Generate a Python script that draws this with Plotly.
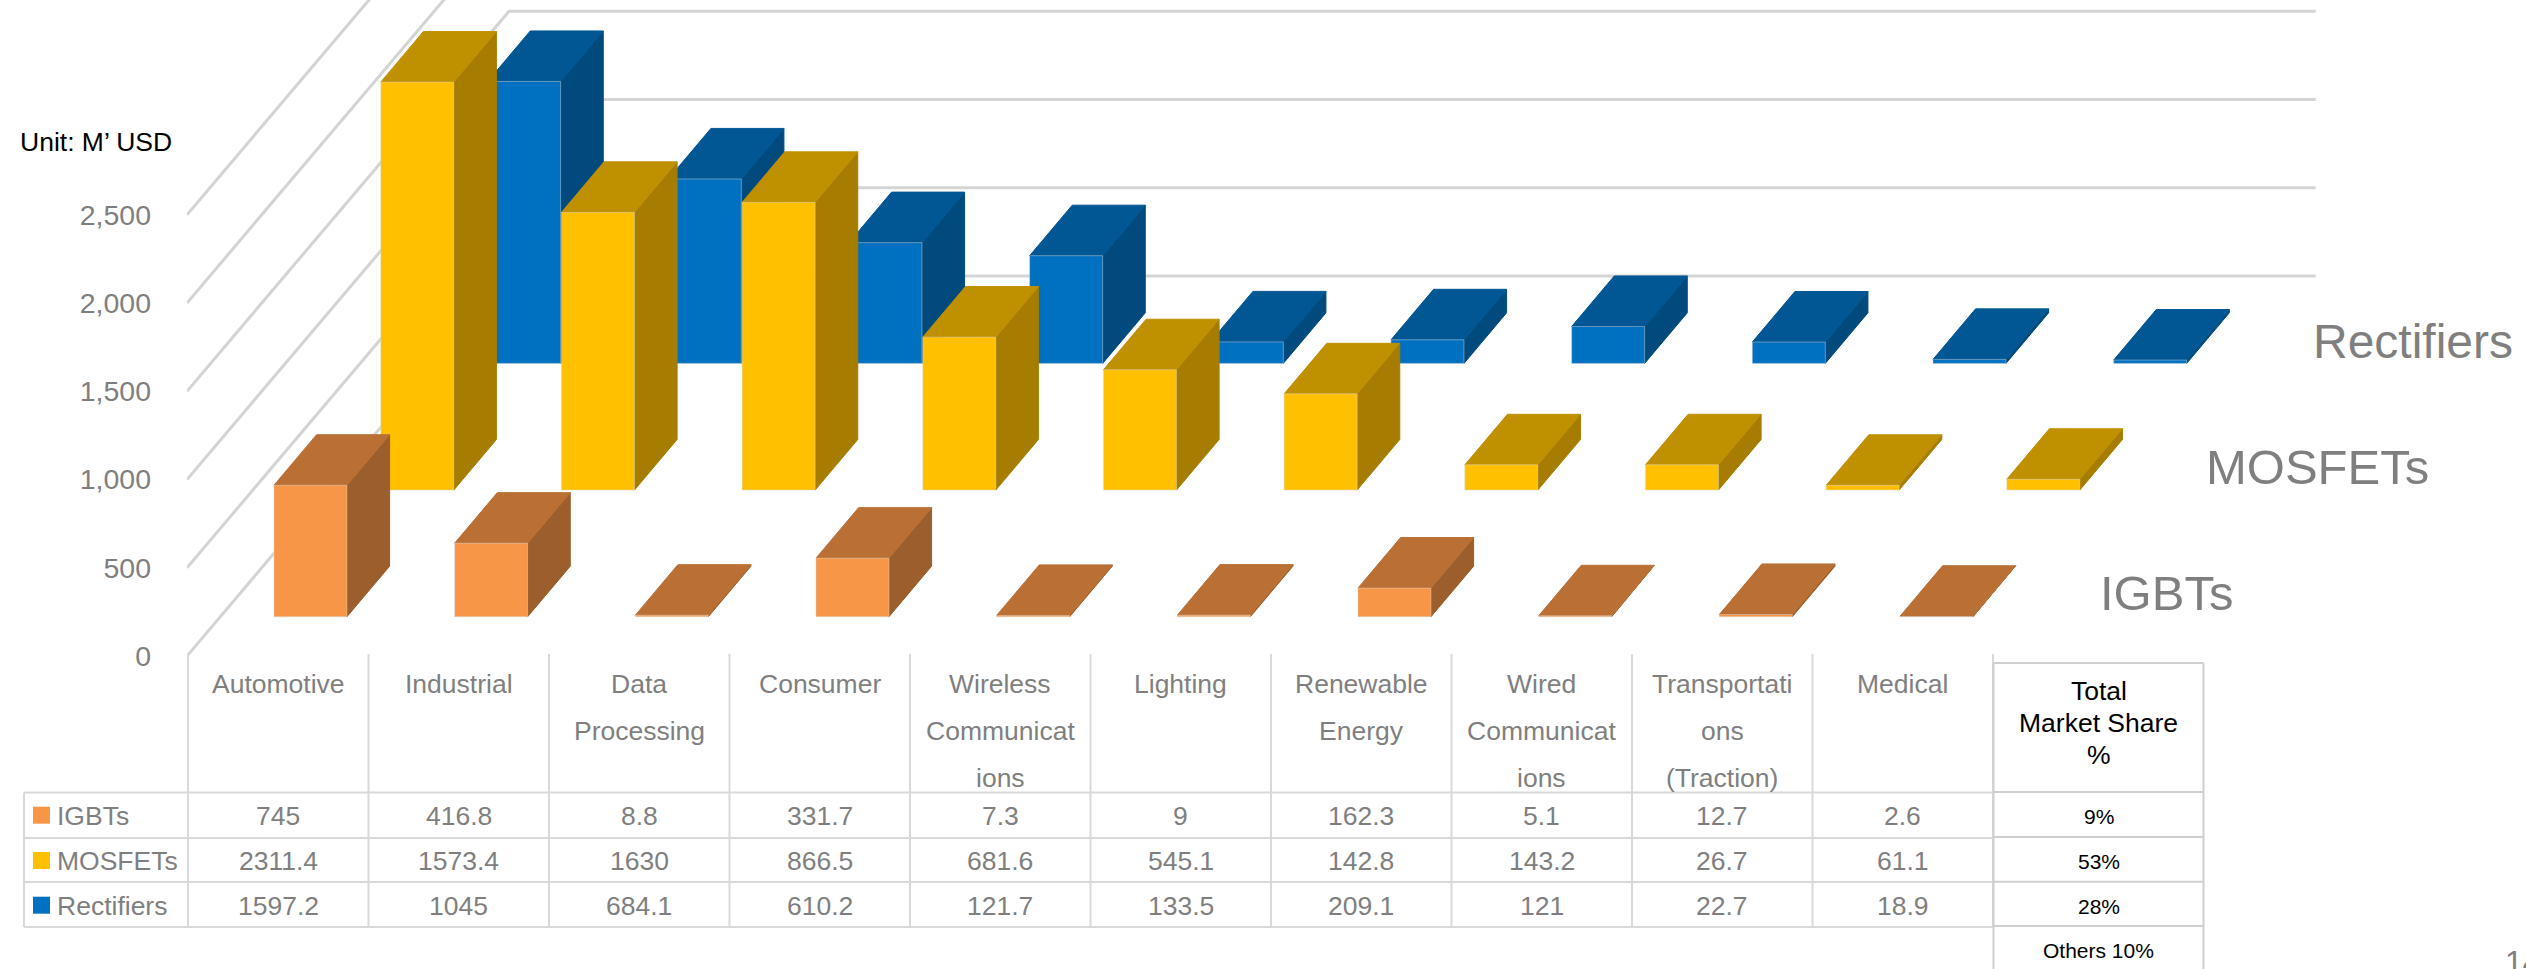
import plotly.graph_objects as go

categories = ["Automotive", "Industrial", "Data Processing", "Consumer", "Wireless Communications",
              "Lighting", "Renewable Energy", "Wired Communications", "Transportations (Traction)", "Medical"]
category_lines = [["Automotive"], ["Industrial"], ["Data", "Processing"], ["Consumer"],
                  ["Wireless", "Communicat", "ions"], ["Lighting"], ["Renewable", "Energy"],
                  ["Wired", "Communicat", "ions"], ["Transportati", "ons", "(Traction)"], ["Medical"]]
igbts = [745, 416.8, 8.8, 331.7, 7.3, 9, 162.3, 5.1, 12.7, 2.6]
mosfets = [2311.4, 1573.4, 1630, 866.5, 681.6, 545.1, 142.8, 143.2, 26.7, 61.1]
rectifiers = [1597.2, 1045, 684.1, 610.2, 121.7, 133.5, 209.1, 121, 22.7, 18.9]
value_text = {"IGBTs": ["745", "416.8", "8.8", "331.7", "7.3", "9", "162.3", "5.1", "12.7", "2.6"],
              "MOSFETs": ["2311.4", "1573.4", "1630", "866.5", "681.6", "545.1", "142.8", "143.2", "26.7", "61.1"],
              "Rectifiers": ["1597.2", "1045", "684.1", "610.2", "121.7", "133.5", "209.1", "121", "22.7", "18.9"]}
y_ticks = [0, 500, 1000, 1500, 2000, 2500]
y_tick_labels = ["0", "500", "1,000", "1,500", "2,000", "2,500"]
share_rows = ["9%", "53%", "28%", "Others 10%"]

W, H = 2526, 969
ML, MB = 187, 313
CAT_PX = 180.67
TABLE_PX = 180.5
VAL_PX = 0.1765
FLOOR_PX = H - MB
DEPTH_X = 320.5 / CAT_PX    # floor depth used by the bars, category units
WALL_X = 322 / CAT_PX       # floor depth used by the wall lines, category units
DEPTH_Y = 380 / VAL_PX      # floor depth, value units
FONT = "Liberation Sans"
GRAY = "#7F7F7F"
GRID = "#D4D4D4"
TABLE = "#D9D9D9"

series = [
    ("Rectifiers", rectifiers, 2, "#0070C0", "#005794", "#004A7E", 2312.5, 341, 48),
    ("MOSFETs", mosfets, 1, "#FFC000", "#BF9000", "#A67D00", 2205.5, 467, 49),
    ("IGBTs", igbts, 0, "#F79646", "#BA7035", "#9C5E2C", 2099.5, 593, 49),
]


def project(cat, value, depth):
    return cat + depth * DEPTH_X, value + depth * DEPTH_Y


def px(x):
    return (x - ML) / (W - ML)


def py(y):
    return (FLOOR_PX - y) / FLOOR_PX


fig = go.Figure()

# floor / wall gridlines
for v in y_ticks:
    fig.add_trace(go.Scatter(x=[0, WALL_X, 10 + WALL_X], y=[v, v + DEPTH_Y, v + DEPTH_Y], mode="lines",
                             line=dict(color=GRID, width=3), hoverinfo="skip", showlegend=False))

BAR_L, BAR_W = 0.298, 0.404
for name, vals, row, c_front, c_top, c_side, *_ in series:
    d0 = (row + 0.31) / 3
    d1 = d0 + 0.133
    fx, fy, tx, ty, sx, sy = [], [], [], [], [], []
    for i, v in enumerate(vals):
        l, r = i + BAR_L, i + BAR_L + BAR_W
        a = [project(l, 0, d0), project(r, 0, d0), project(r, v, d0), project(l, v, d0), project(l, 0, d0)]
        b = [project(l, v, d0), project(r, v, d0), project(r, v, d1), project(l, v, d1), project(l, v, d0)]
        c = [project(r, 0, d0), project(r, 0, d1), project(r, v, d1), project(r, v, d0), project(r, 0, d0)]
        for pts, xs, ys in ((a, fx, fy), (b, tx, ty), (c, sx, sy)):
            xs += [p[0] for p in pts] + [None]
            ys += [p[1] for p in pts] + [None]
    for xs, ys, col, edge, lw in ((sx, sy, c_side, c_side, 1), (tx, ty, c_top, c_top, 1),
                                  (fx, fy, c_front, "rgba(217,217,217,0.6)", 0.75)):
        fig.add_trace(go.Scatter(x=xs, y=ys, mode="lines", fill="toself", fillcolor=col,
                                 line=dict(color=edge, width=lw), name=name,
                                 hoverinfo="skip", showlegend=False))

shapes, ann = [], []


def hline(x0, x1, y, color=TABLE, width=2):
    shapes.append(dict(type="line", xref="paper", yref="paper", x0=px(x0), x1=px(x1), y0=py(y), y1=py(y),
                       line=dict(color=color, width=width)))


def vline(x, y0, y1, color=TABLE, width=2):
    shapes.append(dict(type="line", xref="paper", yref="paper", x0=px(x), x1=px(x), y0=py(y0), y1=py(y1),
                       line=dict(color=color, width=width)))


def text(t, x, y, size=26.5, color=GRAY, anchor="center"):
    ann.append(dict(text=t, xref="paper", yref="paper", x=px(x), y=py(y), xanchor=anchor, yanchor="middle",
                    showarrow=False, borderpad=0, borderwidth=0,
                    font=dict(family=FONT, size=size, color=color)))


# data table grid
T0 = 188
row_lines = [792.5, 838, 882, 927]
row_mid = [815.7, 861, 905.7]
for y in row_lines:
    hline(24, 1993, y)
vline(24, 792.5, 927)
for i in range(11):
    vline(T0 + i * TABLE_PX, 654, 927)

# category headers
line_y = [684, 731, 778]
for i, lines in enumerate(category_lines):
    for j, t in enumerate(lines):
        text(t, T0 + (i + 0.5) * TABLE_PX, line_y[j])

# table rows
for k, (name, vals, row, c_front, *_rest) in enumerate(reversed(series)):
    y = row_mid[k]
    shapes.append(dict(type="rect", xref="paper", yref="paper", x0=px(33), x1=px(50), y0=py(y - 9), y1=py(y + 8),
                       fillcolor=c_front, line=dict(width=0)))
    text(name, 57, y, anchor="left")
    for i, t in enumerate(value_text[name]):
        text(t, T0 + (i + 0.5) * TABLE_PX, y)

# share table
S0, S1 = 1993.5, 2203.5
for y in [663, 792, 837, 881.7, 926]:
    hline(S0, S1, y, color="#CFCFCF")
vline(S0, 663, 969, color="#CFCFCF")
vline(S1, 663, 969, color="#CFCFCF")
Sx = (S0 + S1) / 2
for t, y in zip(["Total", "Market Share", "%"], [690.7, 722.7, 755]):
    text(t, Sx, y, size=26.5, color="#000000")
for t, y in zip(share_rows, [816.7, 861.5, 906, 950.7]):
    text(t, Sx, y, size=21, color="#000000")

# series names on the depth axis
for name, _, _, _, _, _, x, y, size in series:
    text(name, x, y, size=size, anchor="left")

text("Unit: M’ USD", 20, 142, size=26.5, color="#000000", anchor="left")
text("14", 2505, 961.5, size=32, anchor="left")

fig.update_layout(
    width=W, height=H, autosize=False,
    margin=dict(l=ML, r=0, t=0, b=MB, pad=0),
    paper_bgcolor="white", plot_bgcolor="white",
    showlegend=False, shapes=shapes, annotations=ann,
    font=dict(family=FONT),
    xaxis=dict(range=[0, (W - ML) / CAT_PX], visible=False, fixedrange=True),
    yaxis=dict(range=[0, FLOOR_PX / VAL_PX], tickvals=y_ticks, ticktext=y_tick_labels,
               showgrid=False, zeroline=False, showline=False, ticks="",
               ticklabelstandoff=35, fixedrange=True,
               tickfont=dict(family=FONT, size=28.5, color=GRAY)),
)
fig.write_html("out.html", config={"displayModeBar": False},
               post_script="document.body.style.margin='0';document.body.style.overflow='hidden';")
